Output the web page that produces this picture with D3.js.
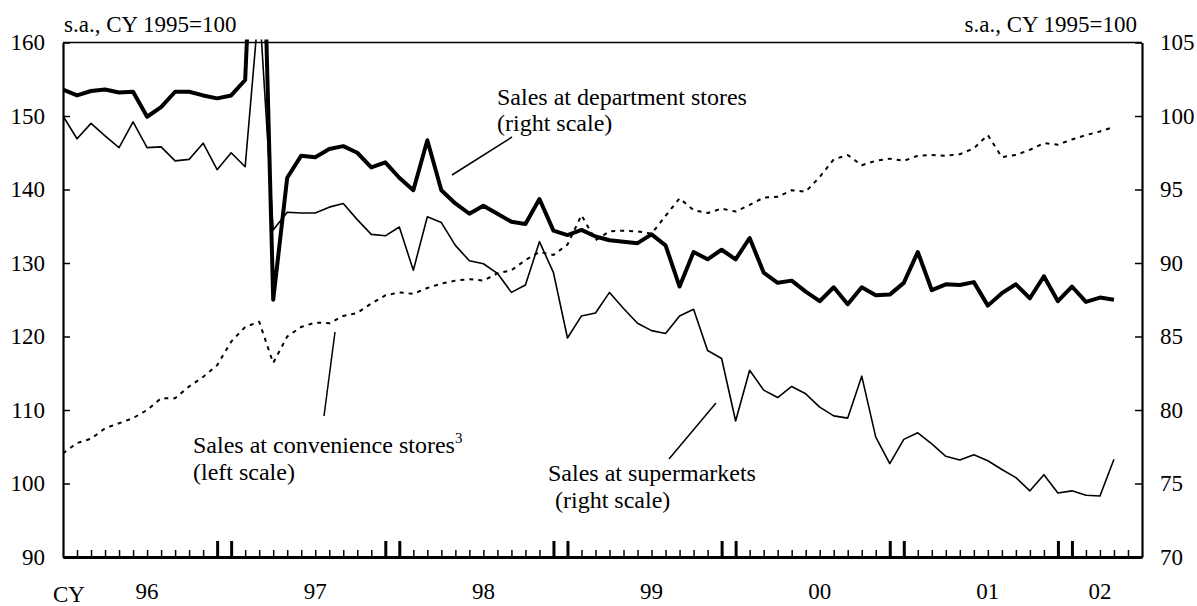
<!DOCTYPE html>
<html>
<head>
<meta charset="utf-8">
<script src="https://cdn.jsdelivr.net/npm/d3@7"></script>
<style>
  body { margin: 0; background: #fff; }
  svg { display: block; font-family: "Liberation Serif", "Times New Roman", serif; }
  text { fill: #000; }
</style>
</head>
<body>
<svg id="chart" width="1197" height="606"></svg>
<script>
// monthly, Jan 1996 .. Apr 2002 (index 0 = Jan 96)
const months = [
  '1996-01', '1996-02', '1996-03', '1996-04', '1996-05', '1996-06', '1996-07', '1996-08', '1996-09', '1996-10', '1996-11', '1996-12',
  '1997-01', '1997-02', '1997-03', '1997-04', '1997-05', '1997-06', '1997-07', '1997-08', '1997-09', '1997-10', '1997-11', '1997-12',
  '1998-01', '1998-02', '1998-03', '1998-04', '1998-05', '1998-06', '1998-07', '1998-08', '1998-09', '1998-10', '1998-11', '1998-12',
  '1999-01', '1999-02', '1999-03', '1999-04', '1999-05', '1999-06', '1999-07', '1999-08', '1999-09', '1999-10', '1999-11', '1999-12',
  '2000-01', '2000-02', '2000-03', '2000-04', '2000-05', '2000-06', '2000-07', '2000-08', '2000-09', '2000-10', '2000-11', '2000-12',
  '2001-01', '2001-02', '2001-03', '2001-04', '2001-05', '2001-06', '2001-07', '2001-08', '2001-09', '2001-10', '2001-11', '2001-12',
  '2002-01', '2002-02', '2002-03', '2002-04',
];

// right scale
const deptStores = [
  101.8, 101.4, 101.7, 101.8, 101.6, 101.65, 99.95, 100.6, 101.65, 101.65, 101.4, 101.2,
  101.4, 102.45, 124.0, 87.5, 95.8, 97.3, 97.2, 97.75, 97.95, 97.5, 96.5, 96.85,
  95.8, 94.95, 98.35, 94.95, 94.05, 93.35, 93.9, 93.35, 92.8, 92.65, 94.35, 92.2,
  91.9, 92.25, 91.8, 91.55, 91.45, 91.35, 91.95, 91.2, 88.4, 90.75, 90.25, 90.9,
  90.25, 91.7, 89.35, 88.65, 88.8, 88.05, 87.4, 88.35, 87.2, 88.35, 87.8, 87.85,
  88.65, 90.75, 88.15, 88.55, 88.5, 88.7, 87.1, 87.95, 88.55, 87.6, 89.1, 87.4,
  88.4, 87.35, 87.65, 87.5,
];

// right scale
const supermarkets = [
  100.0, 98.45, 99.5, 98.65, 97.85, 99.6, 97.85, 97.9, 96.95, 97.05, 98.15, 96.35,
  97.5, 96.55, 107.7, 92.25, 93.45, 93.4, 93.4, 93.8, 94.05, 92.95, 91.95, 91.85,
  92.45, 89.5, 93.15, 92.75, 91.2, 90.15, 89.95, 89.3, 88.0, 88.5, 91.45, 89.35,
  84.9, 86.4, 86.6, 88.0, 86.9, 85.9, 85.4, 85.2, 86.4, 86.85, 84.05, 83.5,
  79.25, 82.7, 81.35, 80.85, 81.6, 81.1, 80.2, 79.6, 79.45, 82.3, 78.15, 76.35,
  78.0, 78.45, 77.7, 76.85, 76.6, 76.95, 76.55, 75.95, 75.4, 74.5, 75.6, 74.35,
  74.5, 74.2, 74.15, 76.65,
];

// left scale
const convStores = [
  104.1, 105.5, 106.1, 107.5, 108.2, 108.9, 110.0, 111.6, 111.6, 113.2, 114.5, 116.1,
  119.3, 121.3, 122.0, 116.4, 120.0, 121.3, 121.9, 121.8, 122.8, 123.2, 124.5, 125.6,
  126.0, 125.8, 126.6, 127.2, 127.6, 127.8, 127.6, 128.6, 129.0, 130.4, 131.5, 131.1,
  132.5, 136.5, 133.1, 134.3, 134.4, 134.3, 134.0, 136.4, 138.8, 137.2, 136.8, 137.4,
  137.0, 137.9, 138.9, 139.0, 139.9, 139.7, 141.7, 144.1, 144.7, 143.3, 143.9, 144.2,
  143.9, 144.6, 144.7, 144.6, 144.8, 145.6, 147.4, 144.4, 144.7, 145.4, 146.3, 146.1,
  146.8, 147.4, 147.9, 148.5,
];

const leftTicks = [90, 100, 110, 120, 130, 140, 150, 160];
const rightTicks = [70, 75, 80, 85, 90, 95, 100, 105];
const yearLabels = ['96', '97', '98', '99', '00', '01', '02'];

const svg = d3.select('#chart');
const plotLeft = 63;
const plotRight = 1142;
const plotTop = 42.5;
const plotBottom = 557;
const axisEnd = 77; // axis runs to Jun 2002

const x = d3.scaleLinear().domain([0, axisEnd]).range([plotLeft, plotRight]);
const yLeft = d3.scaleLinear().domain([90, 160]).range([plotBottom, plotTop]);
const yRight = d3.scaleLinear().domain([70, 105]).range([plotBottom, plotTop]);

svg.append('defs').append('clipPath')
  .attr('id', 'plot')
  .append('rect')
  .attr('x', plotLeft)
  .attr('y', plotTop - 3)
  .attr('width', plotRight - plotLeft)
  .attr('height', plotBottom - plotTop + 3);

// frame
svg.append('line')
  .attr('x1', plotLeft).attr('x2', plotRight)
  .attr('y1', plotTop).attr('y2', plotTop)
  .attr('stroke', '#000').attr('stroke-width', 1.4);

// axes
const gLeft = svg.append('g')
  .attr('transform', `translate(${plotLeft},0)`)
  .call(d3.axisLeft(yLeft).tickValues(leftTicks).tickSizeInner(-7).tickSizeOuter(0).tickPadding(18));

const gRight = svg.append('g')
  .attr('transform', `translate(${plotRight},0)`)
  .call(d3.axisRight(yRight).tickValues(rightTicks).tickSizeInner(-7).tickSizeOuter(0).tickPadding(18));

[gLeft, gRight].forEach((g) => {
  g.attr('font-family', null).attr('font-size', 23);
  g.select('.domain').attr('stroke-width', 2.2);
  g.selectAll('.tick line').attr('stroke-width', 1.5);
});

const bigTicks = [11, 12, 23, 24, 35, 36, 47, 48, 59, 60, 71, 72];

const gBottom = svg.append('g')
  .attr('transform', `translate(0,${plotBottom})`)
  .call(d3.axisBottom(x).tickValues(d3.range(1, axisEnd)).tickSizeInner(-7).tickSizeOuter(0).tickFormat(''));

gBottom.select('.domain').attr('stroke-width', 3.2);
gBottom.selectAll('.tick line')
  .attr('stroke-width', (d) => (bigTicks.includes(d) ? 3 : 1.5))
  .attr('y2', (d) => (bigTicks.includes(d) ? -16 : -7));

// year labels at mid-year (02 is a partial year)
svg.append('g')
  .selectAll('text')
  .data(yearLabels)
  .join('text')
  .attr('x', (d, i) => x(i < 6 ? i * 12 + 6 : 74))
  .attr('y', 599)
  .attr('text-anchor', 'middle')
  .attr('font-size', 23)
  .text((d) => d);

svg.append('text')
  .attr('x', 53).attr('y', 602)
  .attr('font-size', 23)
  .text('CY');

svg.append('text')
  .attr('x', plotLeft + 1).attr('y', 32)
  .attr('font-size', 23)
  .text('s.a., CY 1995=100');

svg.append('text')
  .attr('x', plotRight - 5).attr('y', 32)
  .attr('text-anchor', 'end')
  .attr('font-size', 23)
  .text('s.a., CY 1995=100');

// series
const plot = svg.append('g').attr('clip-path', 'url(#plot)');

const series = [
  { values: convStores, y: yLeft, width: 2, dash: '4,5' },
  { values: supermarkets, y: yRight, width: 1.6, dash: null },
  { values: deptStores, y: yRight, width: 4, dash: null },
];

plot.selectAll('path')
  .data(series)
  .join('path')
  .attr('fill', 'none')
  .attr('stroke', '#000')
  .attr('stroke-linejoin', 'round')
  .attr('stroke-width', (d) => d.width)
  .attr('stroke-dasharray', (d) => d.dash)
  .attr('d', (s) => d3.line()
    .x((d, i) => x(i))
    .y((d) => s.y(d))(s.values));

// annotations
const notes = svg.append('g').attr('font-size', 24);

notes.append('text').attr('x', 497).attr('y', 105).text('Sales at department stores');
notes.append('text').attr('x', 497).attr('y', 131).text('(right scale)');

const conv = notes.append('text').attr('x', 193).attr('y', 453);
conv.append('tspan').text('Sales at convenience stores');
conv.append('tspan').attr('font-size', 15).attr('dy', -10).text('3');
notes.append('text').attr('x', 193).attr('y', 480).text('(left scale)');

notes.append('text').attr('x', 548).attr('y', 481).text('Sales at supermarkets');
notes.append('text').attr('x', 555).attr('y', 508).text('(right scale)');

const leaders = [
  [512, 137, 452, 175],
  [335, 332, 324, 416],
  [716, 403, 669, 459],
];

svg.append('g')
  .selectAll('line')
  .data(leaders)
  .join('line')
  .attr('x1', (d) => d[0]).attr('y1', (d) => d[1])
  .attr('x2', (d) => d[2]).attr('y2', (d) => d[3])
  .attr('stroke', '#000')
  .attr('stroke-width', 1.5);
</script>
</body>
</html>
